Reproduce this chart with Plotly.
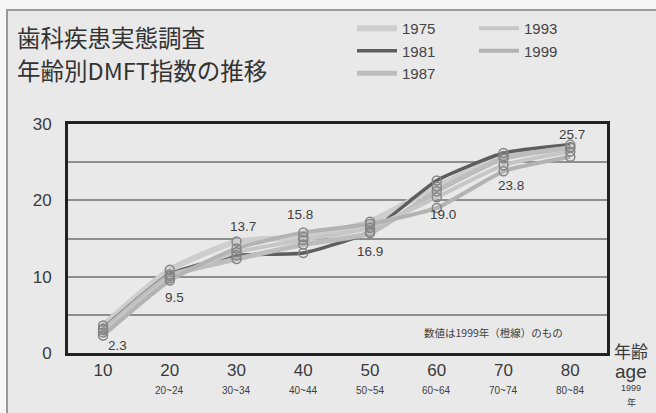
import plotly.graph_objects as go

ages = [10, 20, 30, 40, 50, 60, 70, 80]
age_ranges = ["", "20~24", "30~34", "40~44", "50~54", "60~64", "70~74", "80~84"]
years = ["1975", "1981", "1987", "1993", "1999"]
dmft_1975 = [3.6, 10.9, 14.6, 15.2, 17.2, 21.8, 25.8, 27.0]
dmft_1981 = [3.2, 10.3, 12.8, 13.1, 15.9, 22.6, 26.2, 27.3]
dmft_1987 = [3.0, 10.1, 12.3, 14.2, 15.7, 21.2, 25.5, 26.9]
dmft_1993 = [2.7, 9.8, 13.2, 14.8, 16.4, 20.4, 24.6, 26.4]
dmft_1999 = [2.3, 9.5, 13.7, 15.8, 16.9, 19.0, 23.8, 25.7]
y_ticks = [0, 5, 10, 15, 20, 25, 30]
y_ticktext = ["0", "", "10", "", "20", "", "30"]

series = [dmft_1975, dmft_1981, dmft_1987, dmft_1993, dmft_1999]
colors = ["#cdcdcd", "#5e5e5e", "#bdbdbd", "#c6c6c6", "#b3b3b3"]
widths = [6, 3.5, 5, 4, 4]
legends = ["legend", "legend", "legend", "legend2", "legend2"]

W, H = 656, 413
L, R, T, B = 68, 49, 124, 60
PW, PH = W - L - R, H - T - B

def px(x):
    return (x - L) / PW

def py(y):
    return (H - B - y) / PH

JP = "Noto Sans CJK JP"
TXT = "#3a3a3a"

fig = go.Figure()
for name, vals, c, w, lg in zip(years, series, colors, widths, legends):
    fig.add_trace(go.Scatter(
        x=ages, y=vals, name=name, mode="lines", legend=lg, legendgroup=name,
        line=dict(color=c, width=w, shape="spline", smoothing=0.5),
    ))
for name, vals in zip(years, series):
    fig.add_trace(go.Scatter(
        x=ages, y=vals, name=name, mode="markers", legendgroup=name, showlegend=False,
        marker=dict(symbol="circle-open", size=9, color="#858585", line=dict(width=1.5)),
    ))

# 1999 value labels (offsets in pixels)
offsets = [(14, 10), (5, 17), (6, -22), (-3, -18), (0, 27), (6, 7), (7, 14), (2, -22)]
annotations = []
for a, v, (dx, dy) in zip(ages, dmft_1999, offsets):
    annotations.append(dict(x=a, y=v, xref="x", yref="y", text=f"{v:.1f}", showarrow=False,
                            xshift=dx, yshift=-dy, font=dict(size=13.5, color="#404040", family="Liberation Sans")))

for a, r in zip(ages, age_ranges):
    if r:
        annotations.append(dict(x=a, y=py(390), xref="x", yref="paper", yanchor="middle", text=r,
                                showarrow=False, font=dict(size=10, color="#404040", family="Liberation Sans")))

def note(x, y, text, size, family, color="#404040"):
    return dict(x=px(x), y=py(y), xref="paper", yref="paper", xanchor="center", yanchor="middle",
                text=text, showarrow=False, font=dict(size=size, color=color, family=family))

annotations += [
    dict(x=px(15), y=py(37), xref="paper", yref="paper", xanchor="left", yanchor="middle", align="left",
         text="歯科疾患実態調査", showarrow=False, font=dict(size=23.5, color="#333", family=JP)),
    dict(x=px(15), y=py(70), xref="paper", yref="paper", xanchor="left", yanchor="middle", align="left",
         text="年齢別DMFT指数の推移", showarrow=False, font=dict(size=23.5, color="#333", family=JP)),
    note(493, 332, "数値は1999年（橙線）のもの", 10.5, JP),
    note(631, 350, "年齢", 17, JP, TXT),
    note(631, 371, "age", 19, "Liberation Sans", TXT),
    note(631, 388, "1999", 9, "Liberation Sans"),
    note(631, 402, "年", 9, JP),
]

fig.update_layout(
    width=W, height=H,
    margin=dict(l=L, r=R, t=T, b=B, autoexpand=False),
    paper_bgcolor="#f6f6f6",
    plot_bgcolor="#ececec",
    font=dict(family="Liberation Sans", color=TXT),
    annotations=annotations,
    shapes=[dict(type="rect", xref="paper", yref="paper", x0=px(7), y0=py(10), x1=1.3, y1=-0.5,
                 fillcolor="#e9e9e9", line=dict(color="#9a9a9a", width=2), layer="below")],
    legend=dict(x=px(352), y=py(12), xanchor="left", yanchor="top", bgcolor="rgba(0,0,0,0)",
                font=dict(size=15, color="#444", family="Liberation Sans"), tracegroupgap=0, itemwidth=40),
    legend2=dict(x=px(474), y=py(12), xanchor="left", yanchor="top", bgcolor="rgba(0,0,0,0)",
                 font=dict(size=15, color="#444", family="Liberation Sans"), tracegroupgap=0, itemwidth=40),
    xaxis=dict(range=[4.75, 85.5], tickvals=ages, ticktext=[str(a) for a in ages], showgrid=False,
               zeroline=False, showline=True, linecolor="#222", linewidth=3, mirror=True,
               tickfont=dict(size=17, color=TXT), ticks="", ticklabelstandoff=0),
    yaxis=dict(range=[0, 30], tickvals=y_ticks, ticktext=y_ticktext, showgrid=True, gridcolor="#8e8e8e",
               gridwidth=1.5, zeroline=False, showline=True, linecolor="#222", linewidth=3, mirror=True,
               tickfont=dict(size=17, color=TXT), ticks="", ticklabelstandoff=10),
)

fig.write_html("out.html", config={"displayModeBar": False},
               post_script="document.body.style.margin='0';")
